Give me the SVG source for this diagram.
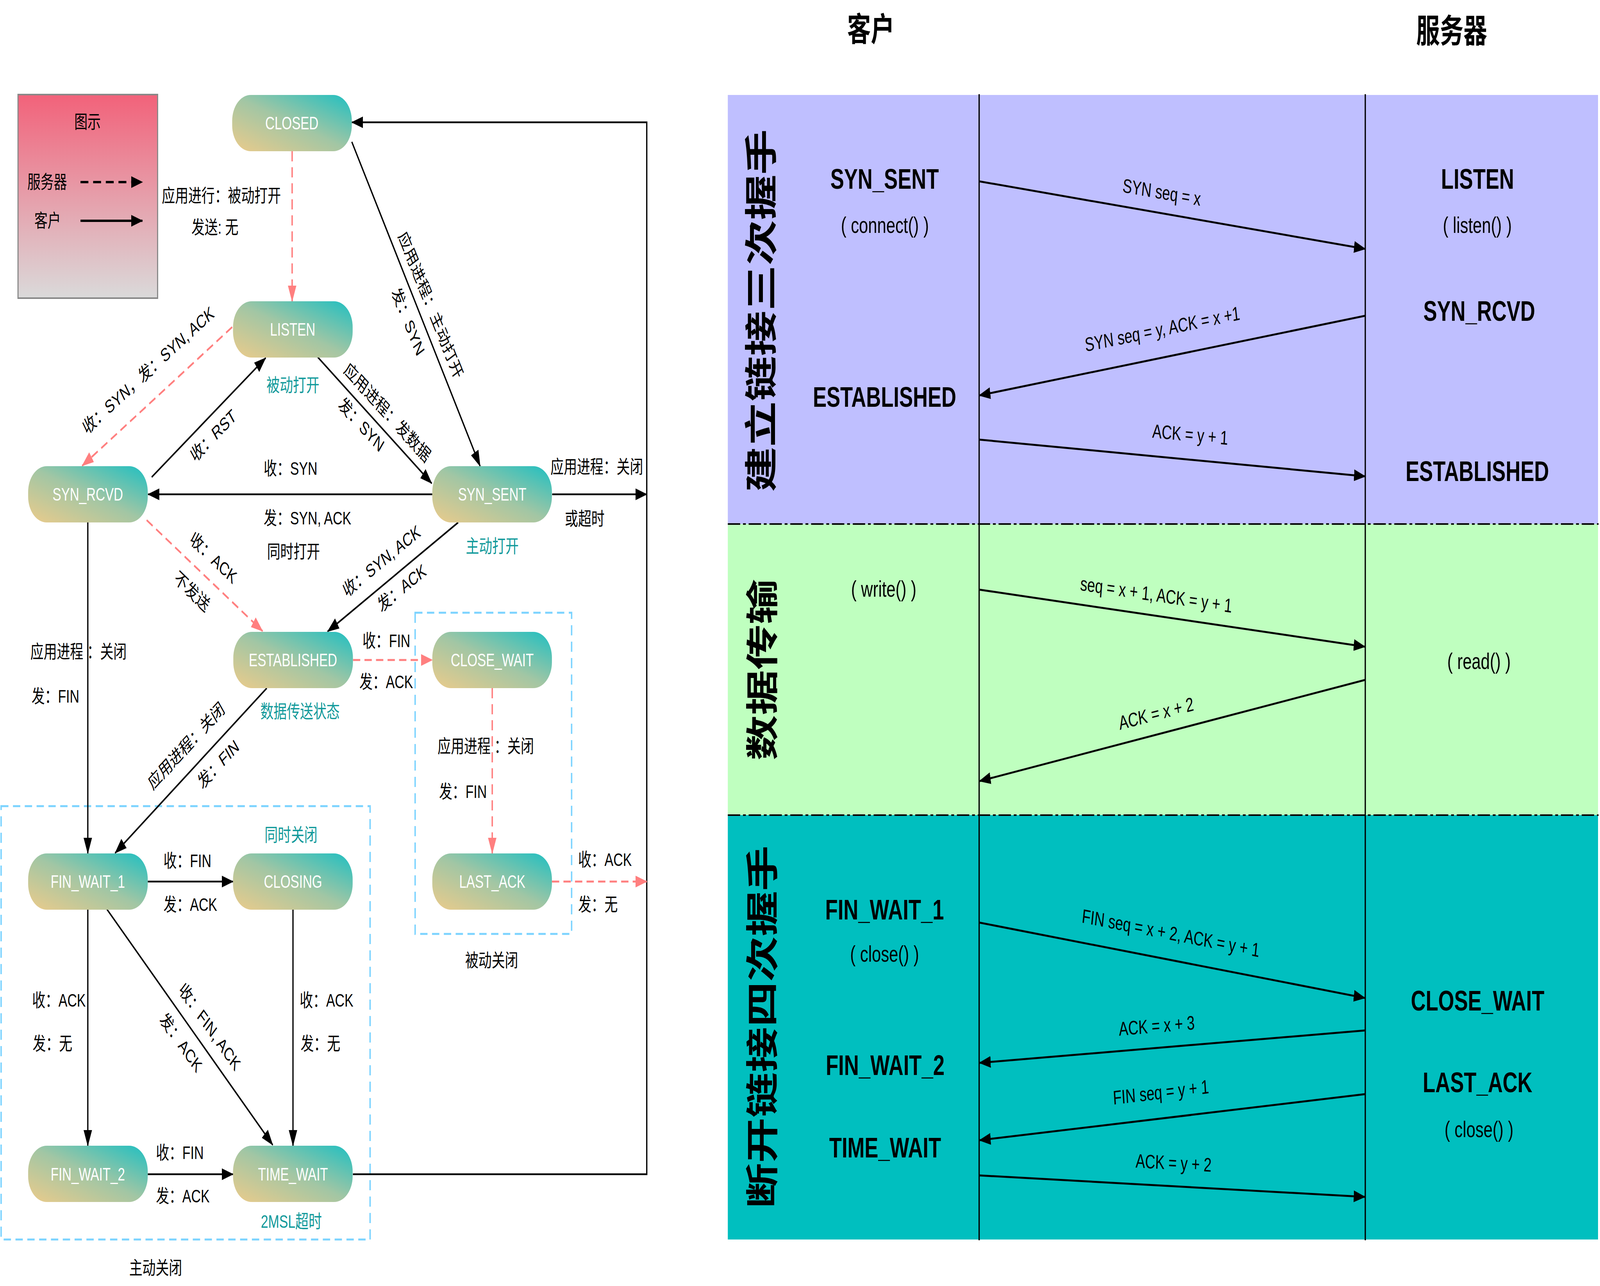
<svg xmlns="http://www.w3.org/2000/svg" width="5685" height="3291" viewBox="0 0 5685 3291" preserveAspectRatio="none">
<defs>
<style>
svg{width:100vw;height:100vh}
text{font-family:"Liberation Sans","Noto Sans CJK SC",sans-serif;dominant-baseline:central}
.nt{fill:#fff;font-size:46px;text-anchor:middle}
.lb{fill:#000;font-size:47px}
.lc{fill:#000;font-size:47px;text-anchor:middle}
.tl{fill:#10999a;font-size:47px;text-anchor:middle}
.node{fill:url(#ng)}
.cs{fill:none;stroke:#000;stroke-width:4.5}
.cd{fill:none;stroke:#ff7f7f;stroke-width:5;stroke-dasharray:26 15}
.bx{fill:none;stroke:#7bd3ff;stroke-width:5;stroke-dasharray:26 16}
.ml{fill:none;stroke:#000;stroke-width:5}
.mt{fill:#000;font-size:50px;text-anchor:middle}
.st{fill:#000;font-size:73px;font-weight:bold;text-anchor:middle}
.fn{fill:#000;font-size:58px;text-anchor:middle}
.hd{fill:#000;font-size:84px;font-weight:bold;text-anchor:middle}
.bd{fill:#000;font-size:116px;font-weight:bold;text-anchor:middle}
.ll{stroke:#000;stroke-width:4.5}
.dd{stroke:#000;stroke-width:4;stroke-dasharray:44 10 10 10}
</style>
<linearGradient id="ng" x1="0" y1="1" x2="1" y2="0">
<stop offset="0" stop-color="#ebcb8b"/>
<stop offset="0.5" stop-color="#a2c6a4"/>
<stop offset="1" stop-color="#1fbfc1"/>
</linearGradient>
<linearGradient id="lg" x1="0" y1="0" x2="0" y2="1">
<stop offset="0" stop-color="#f2627a"/>
<stop offset="1" stop-color="#dadada"/>
</linearGradient>
<marker id="ab" markerUnits="userSpaceOnUse" markerWidth="42" markerHeight="32" viewBox="0 0 42 32" refX="40" refY="16" orient="auto"><path d="M0,1 L42,16 L0,31 z" fill="#000"/></marker>
<marker id="as" markerUnits="userSpaceOnUse" markerWidth="42" markerHeight="32" viewBox="0 0 42 32" refX="40" refY="16" orient="auto"><path d="M0,1 L42,16 L0,31 z" fill="#ff7f7f"/></marker>
</defs>
<rect width="5685" height="3291" fill="#fff"/>

<!-- legend -->
<g id="legend">
<rect x="64" y="242" width="496" height="521" fill="url(#lg)" stroke="#888" stroke-width="4"/>
<text class="lc" x="311" y="312">图示</text>
<text class="lb" x="97" y="466">服务器</text>
<path d="M286,466 H506" fill="none" stroke="#000" stroke-width="6" stroke-dasharray="28 17" marker-end="url(#ab)"/>
<text class="lb" x="122" y="565">客户</text>
<path d="M286,565 H506" fill="none" stroke="#000" stroke-width="6" marker-end="url(#ab)"/>
</g>

<!-- region boxes -->
<g id="regions">
<rect class="bx" x="4" y="2063" width="1311" height="1109"/>
<rect class="bx" x="1475" y="1568" width="556" height="822"/>
</g>

<!-- connectors -->
<g id="connectors">
<path class="cd" d="M1038,387 L1038,771" marker-end="url(#as)"/>
<path class="cs" d="M1250,363 L1706,1193" marker-end="url(#ab)"/>
<path class="cs" d="M1254,3005 H2298 V313 H1250" marker-end="url(#ab)"/>
<path class="cs" d="M1129,914 L1534,1237" marker-end="url(#ab)"/>
<path class="cd" d="M825,837 L292,1192" marker-end="url(#as)"/>
<path class="cs" d="M539,1221 L944,916" marker-end="url(#ab)"/>
<path class="cs" d="M1536,1265 L526,1265" marker-end="url(#ab)"/>
<path class="cs" d="M1962,1265 L2298,1265" marker-end="url(#ab)"/>
<path class="cd" d="M521,1331 L933,1615" marker-end="url(#as)"/>
<path class="cs" d="M1628,1337 L1164,1616" marker-end="url(#ab)"/>
<path class="cd" d="M1254,1689 L1536,1689" marker-end="url(#as)"/>
<path class="cd" d="M1749,1761 L1749,2184" marker-end="url(#as)"/>
<path class="cd" d="M1961,2256 L2298,2256" marker-end="url(#as)"/>
<path class="cs" d="M312,1337 L312,2184" marker-end="url(#ab)"/>
<path class="cs" d="M948,1761 L409,2183" marker-end="url(#ab)"/>
<path class="cs" d="M525,2256 L828,2256" marker-end="url(#ab)"/>
<path class="cs" d="M312,2327 L312,2932" marker-end="url(#ab)"/>
<path class="cs" d="M380,2327 L969,2930" marker-end="url(#ab)"/>
<path class="cs" d="M1041,2327 L1041,2932" marker-end="url(#ab)"/>
<path class="cs" d="M525,3005 L828,3005" marker-end="url(#ab)"/>
</g>

<!-- nodes -->
<g id="n-closed"><rect class="node" x="825" y="243" width="425" height="144" rx="66"/><text class="nt" x="1037" y="315">CLOSED</text></g>
<g id="n-listen"><rect class="node" x="828" y="771" width="425" height="144" rx="66"/><text class="nt" x="1040" y="843">LISTEN</text></g>
<g id="n-synrcvd"><rect class="node" x="100" y="1193" width="425" height="144" rx="66"/><text class="nt" x="312" y="1265">SYN_RCVD</text></g>
<g id="n-synsent"><rect class="node" x="1536" y="1193" width="425" height="144" rx="66"/><text class="nt" x="1749" y="1265">SYN_SENT</text></g>
<g id="n-established"><rect class="node" x="829" y="1617" width="425" height="144" rx="66"/><text class="nt" x="1041" y="1689">ESTABLISHED</text></g>
<g id="n-closewait"><rect class="node" x="1536" y="1617" width="425" height="144" rx="66"/><text class="nt" x="1749" y="1689">CLOSE_WAIT</text></g>
<g id="n-finwait1"><rect class="node" x="100" y="2184" width="425" height="144" rx="66"/><text class="nt" x="312" y="2256">FIN_WAIT_1</text></g>
<g id="n-closing"><rect class="node" x="828" y="2184" width="425" height="144" rx="66"/><text class="nt" x="1041" y="2256">CLOSING</text></g>
<g id="n-lastack"><rect class="node" x="1536" y="2184" width="425" height="144" rx="66"/><text class="nt" x="1749" y="2256">LAST_ACK</text></g>
<g id="n-finwait2"><rect class="node" x="100" y="2932" width="425" height="144" rx="66"/><text class="nt" x="312" y="3005">FIN_WAIT_2</text></g>
<g id="n-timewait"><rect class="node" x="828" y="2932" width="425" height="144" rx="66"/><text class="nt" x="1041" y="3005">TIME_WAIT</text></g>

<!-- labels -->
<g id="labels">
<text class="lb" x="575" y="501">应用进行：被动打开</text>
<text class="lb" x="680" y="582">发送: 无</text>
<text class="tl" x="1041" y="986">被动打开</text>
<text class="lb" x="937" y="1199">收：SYN</text>
<text class="lb" x="937" y="1326">发：SYN, ACK</text>
<text class="lb" x="949" y="1412">同时打开</text>
<text class="lb" x="1956" y="1195">应用进程：关闭</text>
<text class="lb" x="2007" y="1328">或超时</text>
<text class="tl" x="1749" y="1398">主动打开</text>
<text class="tl" x="1066" y="1821">数据传送状态</text>
<text class="lb" x="1288" y="1640">收：FIN</text>
<text class="lb" x="1277" y="1745">发：ACK</text>
<text class="lb" x="1555" y="1910">应用进程 ：关闭</text>
<text class="lb" x="1560" y="2026">发：FIN</text>
<text class="lb" x="108" y="1668">应用进程 ：关闭</text>
<text class="lb" x="112" y="1782">发：FIN</text>
<text class="tl" x="1034" y="2137">同时关闭</text>
<text class="lb" x="581" y="2203">收：FIN</text>
<text class="lb" x="581" y="2315">发：ACK</text>
<text class="lb" x="114" y="2560">收：ACK</text>
<text class="lb" x="116" y="2671">发：无</text>
<text class="lb" x="1065" y="2560">收：ACK</text>
<text class="lb" x="1068" y="2671">发：无</text>
<text class="lb" x="554" y="2950">收：FIN</text>
<text class="lb" x="554" y="3061">发：ACK</text>
<text class="tl" x="1035" y="3126">2MSL超时</text>
<text class="lc" x="553" y="3245">主动关闭</text>
<text class="lc" x="1747" y="2458">被动关闭</text>
<text class="lb" x="2054" y="2200">收：ACK</text>
<text class="lb" x="2054" y="2315">发：无</text>
<text class="lc" transform="translate(1530,781) rotate(61.1)">应用进程：主动打开</text>
<text class="lc" transform="translate(1450,823) rotate(61.1)">发：SYN</text>
<text class="lc" transform="translate(1376,1056) rotate(38.6)">应用进程：发数据</text>
<text class="lc" transform="translate(1284,1087) rotate(38.6)">发：SYN</text>
<text class="lc" transform="translate(527,948) rotate(-33.7)">收：SYN，发：SYN, ACK</text>
<text class="lc" transform="translate(758,1115) rotate(-37)">收：RST</text>
<text class="lc" transform="translate(758,1428) rotate(35)">收：ACK</text>
<text class="lc" transform="translate(682,1514) rotate(35)">不发送</text>
<text class="lc" transform="translate(1356,1436) rotate(-31)">收：SYN, ACK</text>
<text class="lc" transform="translate(1428,1505) rotate(-31)">发：ACK</text>
<text class="lc" transform="translate(662,1909) rotate(-38)">应用进程：关闭</text>
<text class="lc" transform="translate(776,1956) rotate(-38)">发：FIN</text>
<text class="lc" transform="translate(745,2628) rotate(45.6)">收：FIN, ACK</text>
<text class="lc" transform="translate(643,2668) rotate(45.6)">发：ACK</text>
</g>

<!-- sequence diagram -->
<g id="seq-bands">
<rect x="2586" y="243" width="3092" height="1098" fill="#bfbfff"/>
<rect x="2586" y="1341" width="3092" height="745" fill="#bfffbf"/>
<rect x="2586" y="2086" width="3092" height="1086" fill="#00bfbf"/>
<line class="dd" x1="2586" y1="1341" x2="5680" y2="1341"/>
<line class="dd" x1="2586" y1="2086" x2="5680" y2="2086"/>
</g>
<g id="seq-lifelines">
<line class="ll" x1="3479" y1="241" x2="3479" y2="3174"/>
<line class="ll" x1="4851" y1="241" x2="4851" y2="3174"/>
</g>
<g id="seq-titles">
<text class="hd" x="3094" y="76">客户</text>
<text class="hd" x="5158" y="80">服务器</text>
<text class="bd" transform="translate(2706,795) rotate(-90)">建立链接三次握手</text>
<text class="bd" transform="translate(2710,1714) rotate(-90)">数据传输</text>
<text class="bd" transform="translate(2710,2628) rotate(-90)">断开链接四次握手</text>
</g>
<g id="seq-states">
<text class="st" x="3143" y="457">SYN_SENT</text>
<text class="fn" x="3144" y="576">( connect() )</text>
<text class="st" x="3143" y="1015">ESTABLISHED</text>
<text class="st" x="5250" y="457">LISTEN</text>
<text class="fn" x="5249" y="576">( listen() )</text>
<text class="st" x="5256" y="795">SYN_RCVD</text>
<text class="st" x="5249" y="1205">ESTABLISHED</text>
<text class="fn" x="3140" y="1507">( write() )</text>
<text class="fn" x="5255" y="1692">( read() )</text>
<text class="st" x="3143" y="2327">FIN_WAIT_1</text>
<text class="fn" x="3143" y="2441">( close() )</text>
<text class="st" x="3145" y="2725">FIN_WAIT_2</text>
<text class="st" x="3145" y="2936">TIME_WAIT</text>
<text class="st" x="5250" y="2560">CLOSE_WAIT</text>
<text class="st" x="5250" y="2769">LAST_ACK</text>
<text class="fn" x="5255" y="2890">( close() )</text>
</g>
<g id="seq-messages">
<path class="ml" d="M3479,464 L4851,637" marker-end="url(#ab)"/>
<path class="ml" d="M4851,808 L3479,1012" marker-end="url(#ab)"/>
<path class="ml" d="M3479,1125 L4851,1219" marker-end="url(#ab)"/>
<path class="ml" d="M3480,1509 L4850,1655" marker-end="url(#ab)"/>
<path class="ml" d="M4850,1740 L3480,1999" marker-end="url(#ab)"/>
<path class="ml" d="M3480,2361 L4850,2554" marker-end="url(#ab)"/>
<path class="ml" d="M4850,2637 L3480,2720" marker-end="url(#ab)"/>
<path class="ml" d="M4850,2800 L3480,2918" marker-end="url(#ab)"/>
<path class="ml" d="M3480,3008 L4850,3063" marker-end="url(#ab)"/>
<text class="mt" transform="translate(4128,492) rotate(7.2)">SYN seq = x</text>
<text class="mt" transform="translate(4130,842) rotate(-8.5)">SYN seq = y, ACK = x +1</text>
<text class="mt" transform="translate(4229,1112) rotate(3.9)">ACK = y + 1</text>
<text class="mt" transform="translate(4108,1522) rotate(6.1)">seq = x + 1, ACK = y + 1</text>
<text class="mt" transform="translate(4108,1826) rotate(-10.7)">ACK = x + 2</text>
<text class="mt" transform="translate(4160,2388) rotate(8)">FIN seq =  x + 2, ACK = y + 1</text>
<text class="mt" transform="translate(4110,2625) rotate(-3.5)">ACK = x + 3</text>
<text class="mt" transform="translate(4125,2795) rotate(-4.9)">FIN seq = y + 1</text>
<text class="mt" transform="translate(4170,2976) rotate(2.3)">ACK = y + 2</text>
</g>
</svg>
